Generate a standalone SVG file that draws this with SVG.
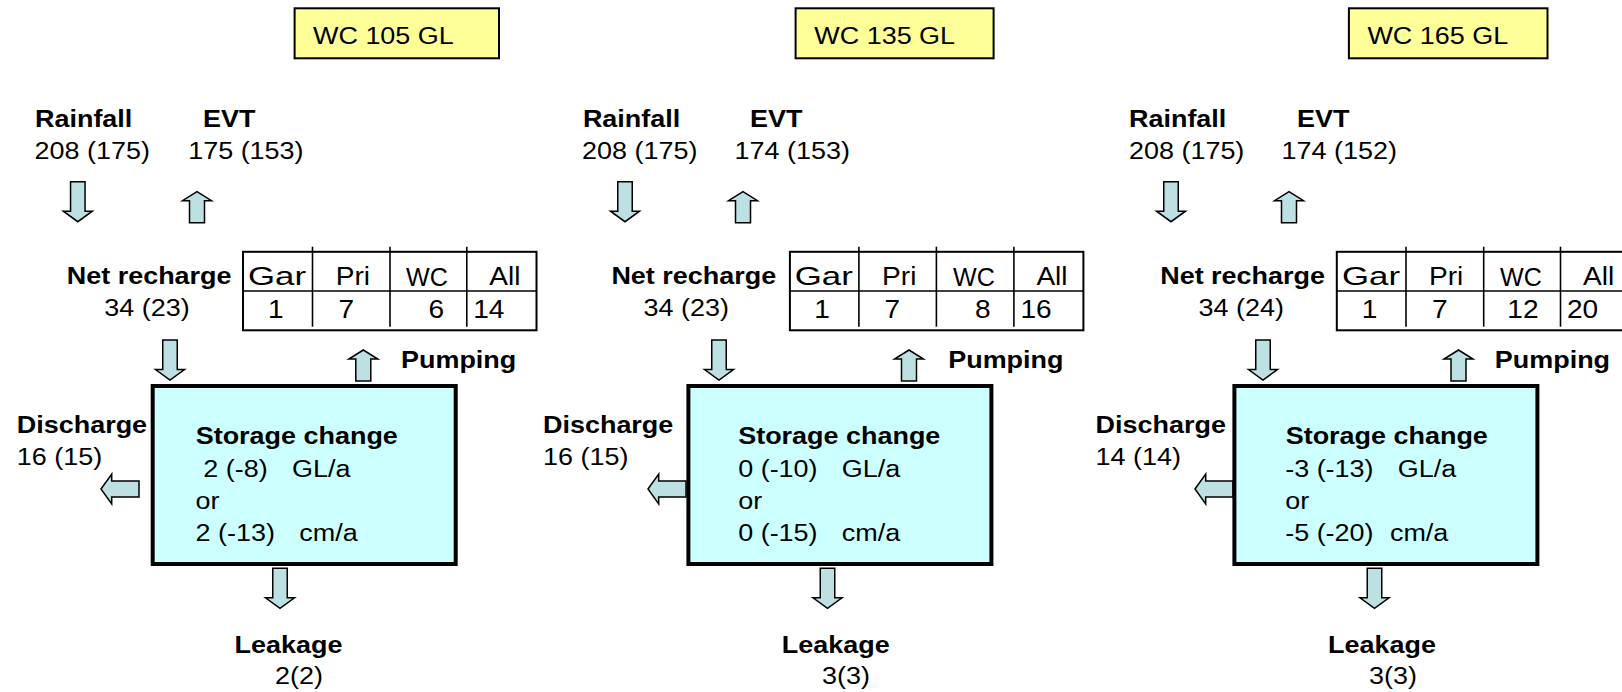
<svg xmlns="http://www.w3.org/2000/svg" xmlns:xlink="http://www.w3.org/1999/xlink" width="1622" height="692" viewBox="0 0 1622 692">
<style>
.t{font-family:"Liberation Sans",Arial,Helvetica,sans-serif;font-size:24.5px;fill:#000}
.b{font-weight:bold}
.tb{font-size:25.5px}
.title{fill:#FFFF99;stroke:#000;stroke-width:2}
.store{fill:#CCFFFF;stroke:#000;stroke-width:4}
.tbl{fill:#fff;stroke:#000;stroke-width:2}
.tl{stroke:#000;stroke-width:1.6}
.arr{fill:#BDE0E3;stroke:#000;stroke-width:1.5}
</style>
<defs>
<path id="arrDown" d="M-7.25,0 H7.25 V29.5 H14.5 L0,40 L-14.5,29.5 H-7.25 Z"/>
<path id="arrUp" d="M0,0 L14.5,9 H7.5 V31 H-7.5 V9 H-14.5 Z"/>
<path id="arrLeft" d="M0,0 L10.7,-15 V-8 H38 V8 H10.7 V15 Z"/>
</defs>
<rect width="1622" height="692" fill="#fff"/>

<!-- Connectors (flow arrows) -->
<g id="connectors" class="arr">
<use xlink:href="#arrDown" transform="translate(77.8 181.7)"/>
<use xlink:href="#arrUp" transform="translate(197 191.7)"/>
<use xlink:href="#arrDown" transform="translate(170 340)"/>
<use xlink:href="#arrUp" transform="translate(363.3 350)"/>
<use xlink:href="#arrLeft" transform="translate(101 489)"/>
<use xlink:href="#arrDown" transform="translate(280 568.3)"/>

<use xlink:href="#arrDown" transform="translate(625 181.7)"/>
<use xlink:href="#arrUp" transform="translate(743 191.7)"/>
<use xlink:href="#arrDown" transform="translate(719 340)"/>
<use xlink:href="#arrUp" transform="translate(909 350)"/>
<use xlink:href="#arrLeft" transform="translate(648 489)"/>
<use xlink:href="#arrDown" transform="translate(827.5 568.3)"/>

<use xlink:href="#arrDown" transform="translate(1171 181.7)"/>
<use xlink:href="#arrUp" transform="translate(1289 191.7)"/>
<use xlink:href="#arrDown" transform="translate(1263 340)"/>
<use xlink:href="#arrUp" transform="translate(1458.5 350)"/>
<use xlink:href="#arrLeft" transform="translate(1195 489)"/>
<use xlink:href="#arrDown" transform="translate(1374.5 568.3)"/>
</g>

<!-- ===== Panel 1 : WC 105 GL ===== -->
<g id="p1-title">
<rect class="title" x="294.6" y="8.3" width="204.4" height="50"/>
<text class="t" transform="translate(313 44) scale(1.1 1)">WC 105 GL</text>
</g>
<g id="p1-rainfall">
<text class="t b" transform="translate(35 127) scale(1.1 1)">Rainfall</text>
<text class="t" transform="translate(34.6 159) scale(1.1 1)">208 (175)</text>
</g>
<g id="p1-evt">
<text class="t b" transform="translate(203 127) scale(1.1 1)">EVT</text>
<text class="t" transform="translate(188.2 159) scale(1.1 1)">175 (153)</text>
</g>
<g id="p1-recharge">
<text class="t b" transform="translate(66.8 283.8) scale(1.1 1)">Net recharge</text>
<text class="t" transform="translate(104.3 315.5) scale(1.1 1)">34 (23)</text>
</g>
<g id="p1-pumping-table">
<rect class="tbl" x="243" y="251.8" width="293.5" height="78.5"/>
<line class="tl" x1="243" y1="291" x2="536.5" y2="291"/>
<line class="tl" x1="312.5" y1="246.7" x2="312.5" y2="326.7"/>
<line class="tl" x1="390" y1="246.7" x2="390" y2="326.7"/>
<line class="tl" x1="466.8" y1="246.7" x2="466.8" y2="326.7"/>
<text class="t tb" transform="translate(248 285) scale(1.1 1)" textLength="52.7" lengthAdjust="spacingAndGlyphs">Gar</text>
<text class="t tb" transform="translate(335.7 285) scale(1.1 1)">Pri</text>
<text class="t tb" transform="translate(406 286) scale(1.1 1)" textLength="38" lengthAdjust="spacingAndGlyphs">WC</text>
<text class="t tb" transform="translate(489.3 285) scale(1.1 1)">All</text>
<text class="t tb" transform="translate(268 318.3) scale(1.1 1)">1</text>
<text class="t tb" transform="translate(338.6 318.3) scale(1.1 1)">7</text>
<text class="t tb" text-anchor="end" transform="translate(444.2 318.3) scale(1.1 1)">6</text>
<text class="t tb" transform="translate(473.2 318.3) scale(1.1 1)">14</text>
</g>
<g id="p1-pumping">
<text class="t b" transform="translate(401 367.7) scale(1.1 1)">Pumping</text>
</g>
<g id="p1-storage">
<rect class="store" x="152.7" y="386" width="303" height="178"/>
<text class="t b" transform="translate(195.7 443.5) scale(1.1 1)">Storage change</text>
<text class="t" transform="translate(203.3 477) scale(1.1 1)">2 (-8)<tspan x="80.7">GL/a</tspan></text>
<text class="t" transform="translate(195.5 509) scale(1.1 1)">or</text>
<text class="t" transform="translate(195.5 540.7) scale(1.1 1)">2 (-13)<tspan x="94.4">cm/a</tspan></text>
</g>
<g id="p1-discharge">
<text class="t b" transform="translate(16.8 433) scale(1.1 1)">Discharge</text>
<text class="t" transform="translate(16.8 465) scale(1.1 1)">16 (15)</text>
</g>
<g id="p1-leakage">
<text class="t b" transform="translate(234.6 652.7) scale(1.1 1)">Leakage</text>
<text class="t" transform="translate(275 684) scale(1.1 1)">2(2)</text>
</g>

<!-- ===== Panel 2 : WC 135 GL ===== -->
<g id="p2-title">
<rect class="title" x="795.6" y="8.3" width="198" height="50"/>
<text class="t" transform="translate(814.3 44) scale(1.1 1)">WC 135 GL</text>
</g>
<g id="p2-rainfall">
<text class="t b" transform="translate(582.9 127) scale(1.1 1)">Rainfall</text>
<text class="t" transform="translate(582.1 159) scale(1.1 1)">208 (175)</text>
</g>
<g id="p2-evt">
<text class="t b" transform="translate(750 127) scale(1.1 1)">EVT</text>
<text class="t" transform="translate(734.6 159) scale(1.1 1)">174 (153)</text>
</g>
<g id="p2-recharge">
<text class="t b" transform="translate(611.4 283.8) scale(1.1 1)">Net recharge</text>
<text class="t" transform="translate(643.6 315.5) scale(1.1 1)">34 (23)</text>
</g>
<g id="p2-pumping-table">
<rect class="tbl" x="789.9" y="251.8" width="293.5" height="78.5"/>
<line class="tl" x1="789.9" y1="291" x2="1083.4" y2="291"/>
<line class="tl" x1="858.9" y1="246.7" x2="858.9" y2="326.7"/>
<line class="tl" x1="936.4" y1="246.7" x2="936.4" y2="326.7"/>
<line class="tl" x1="1013.9" y1="246.7" x2="1013.9" y2="326.7"/>
<text class="t tb" transform="translate(794.8 285) scale(1.1 1)" textLength="52.7" lengthAdjust="spacingAndGlyphs">Gar</text>
<text class="t tb" transform="translate(882.1 285) scale(1.1 1)">Pri</text>
<text class="t tb" transform="translate(953 286) scale(1.1 1)" textLength="38" lengthAdjust="spacingAndGlyphs">WC</text>
<text class="t tb" transform="translate(1036.4 285) scale(1.1 1)">All</text>
<text class="t tb" transform="translate(814.3 318.3) scale(1.1 1)">1</text>
<text class="t tb" transform="translate(884.6 318.3) scale(1.1 1)">7</text>
<text class="t tb" text-anchor="end" transform="translate(990.6 318.3) scale(1.1 1)">8</text>
<text class="t tb" transform="translate(1020.4 318.3) scale(1.1 1)">16</text>
</g>
<g id="p2-pumping">
<text class="t b" transform="translate(948.2 367.7) scale(1.1 1)">Pumping</text>
</g>
<g id="p2-storage">
<rect class="store" x="688.4" y="386" width="303" height="178"/>
<text class="t b" transform="translate(738.2 443.5) scale(1.1 1)">Storage change</text>
<text class="t" transform="translate(738.2 477) scale(1.1 1)">0 (-10)<tspan x="94.2">GL/a</tspan></text>
<text class="t" transform="translate(738.2 509) scale(1.1 1)">or</text>
<text class="t" transform="translate(738.2 540.7) scale(1.1 1)">0 (-15)<tspan x="94.2">cm/a</tspan></text>
</g>
<g id="p2-discharge">
<text class="t b" transform="translate(543 433) scale(1.1 1)">Discharge</text>
<text class="t" transform="translate(543 465) scale(1.1 1)">16 (15)</text>
</g>
<g id="p2-leakage">
<text class="t b" transform="translate(781.8 652.7) scale(1.1 1)">Leakage</text>
<text class="t" transform="translate(822.1 684) scale(1.1 1)">3(3)</text>
</g>

<!-- ===== Panel 3 : WC 165 GL ===== -->
<g id="p3-title">
<rect class="title" x="1348.9" y="8.3" width="198.6" height="50"/>
<text class="t" transform="translate(1367.4 44) scale(1.1 1)">WC 165 GL</text>
</g>
<g id="p3-rainfall">
<text class="t b" transform="translate(1129 127) scale(1.1 1)">Rainfall</text>
<text class="t" transform="translate(1129 159) scale(1.1 1)">208 (175)</text>
</g>
<g id="p3-evt">
<text class="t b" transform="translate(1297 127) scale(1.1 1)">EVT</text>
<text class="t" transform="translate(1281.6 159) scale(1.1 1)">174 (152)</text>
</g>
<g id="p3-recharge">
<text class="t b" transform="translate(1160.2 283.8) scale(1.1 1)">Net recharge</text>
<text class="t" transform="translate(1198.6 315.5) scale(1.1 1)">34 (24)</text>
</g>
<g id="p3-pumping-table">
<rect class="tbl" x="1336.8" y="251.8" width="293.5" height="78.5"/>
<line class="tl" x1="1336.8" y1="291" x2="1630.3" y2="291"/>
<line class="tl" x1="1406" y1="246.7" x2="1406" y2="326.7"/>
<line class="tl" x1="1483.7" y1="246.7" x2="1483.7" y2="326.7"/>
<line class="tl" x1="1560.5" y1="246.7" x2="1560.5" y2="326.7"/>
<text class="t tb" transform="translate(1342 285) scale(1.1 1)" textLength="52.7" lengthAdjust="spacingAndGlyphs">Gar</text>
<text class="t tb" transform="translate(1429 285) scale(1.1 1)">Pri</text>
<text class="t tb" transform="translate(1500 286) scale(1.1 1)" textLength="38" lengthAdjust="spacingAndGlyphs">WC</text>
<text class="t tb" transform="translate(1583 285) scale(1.1 1)">All</text>
<text class="t tb" transform="translate(1361.8 318.3) scale(1.1 1)">1</text>
<text class="t tb" transform="translate(1432 318.3) scale(1.1 1)">7</text>
<text class="t tb" text-anchor="end" transform="translate(1538.5 318.3) scale(1.1 1)">12</text>
<text class="t tb" transform="translate(1567 318.3) scale(1.1 1)">20</text>
</g>
<g id="p3-pumping">
<text class="t b" transform="translate(1494.8 367.7) scale(1.1 1)">Pumping</text>
</g>
<g id="p3-storage">
<rect class="store" x="1234.4" y="386" width="303" height="178"/>
<text class="t b" transform="translate(1285.7 443.5) scale(1.1 1)">Storage change</text>
<text class="t" transform="translate(1285.2 477) scale(1.1 1)">-3 (-13)<tspan x="102.3">GL/a</tspan></text>
<text class="t" transform="translate(1285.2 509) scale(1.1 1)">or</text>
<text class="t" transform="translate(1285.2 540.7) scale(1.1 1)">-5 (-20)<tspan x="95.2">cm/a</tspan></text>
</g>
<g id="p3-discharge">
<text class="t b" transform="translate(1095.6 433) scale(1.1 1)">Discharge</text>
<text class="t" transform="translate(1095.6 465) scale(1.1 1)">14 (14)</text>
</g>
<g id="p3-leakage">
<text class="t b" transform="translate(1328.1 652.7) scale(1.1 1)">Leakage</text>
<text class="t" transform="translate(1369.1 684) scale(1.1 1)">3(3)</text>
</g>
</svg>
